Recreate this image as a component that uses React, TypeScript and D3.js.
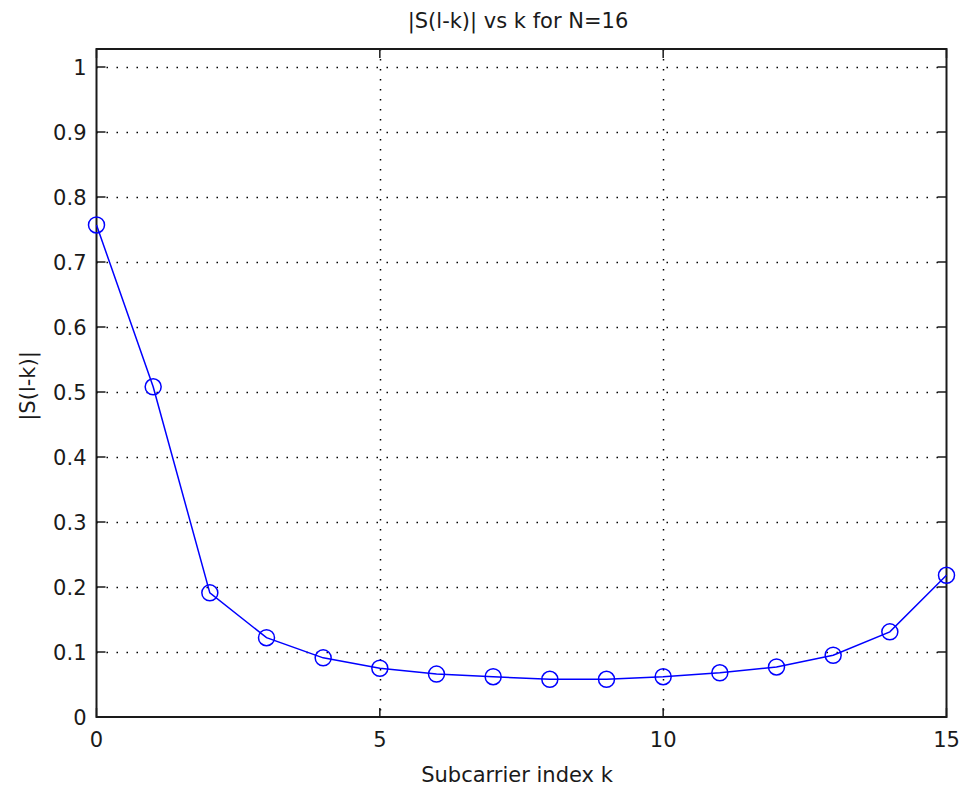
import React from "react";
import * as d3 from "d3";

const kValues = [0, 1, 2, 3, 4, 5, 6, 7, 8, 9, 10, 11, 12, 13, 14, 15];
const sValues = [0.757, 0.508, 0.191, 0.122, 0.091, 0.075, 0.066, 0.062, 0.058, 0.058, 0.062, 0.068, 0.077, 0.095, 0.131, 0.218];
const xTicks = [0, 5, 10, 15];
const yTicks = [0, 0.1, 0.2, 0.3, 0.4, 0.5, 0.6, 0.7, 0.8, 0.9, 1];
const titleText = "|S(l-k)| vs k for N=16";
const xLabelText = "Subcarrier index k";
const yLabelText = "|S(l-k)|";

export default function App() {
  const W = 966, H = 790;
  const left = 96.5, right = 946.5, top = 49, bottom = 717;
  const x = d3.scaleLinear().domain([0, 15]).range([left, right]);
  const y = d3.scaleLinear().domain([0, 1]).range([bottom, 67]);
  const line = d3.line<number>().x((_, i) => x(kValues[i])).y((d) => y(d));
  const font = "'DejaVu Sans', Verdana, sans-serif";
  const tc = "#1a1a1a";
  const fs = 21;
  const tl = 9;
  return (
    <svg width={W} height={H} style={{ position: "absolute", left: 0, top: 0, background: "#fff" }}>
      <rect x={0} y={0} width={W} height={H} fill="#fff" />
      {/* grid */}
      {yTicks.filter((t) => t > 0).map((t) => (
        <line key={"gy" + t} x1={left} x2={right} y1={Math.round(y(t)) + 0.5} y2={Math.round(y(t)) + 0.5}
          stroke="#000" strokeWidth={1.5} strokeDasharray="1.5,8.5" />
      ))}
      {xTicks.filter((t) => t > 0 && t < 15).map((t) => (
        <line key={"gx" + t} y1={top} y2={bottom} x1={Math.round(x(t)) + 0.5} x2={Math.round(x(t)) + 0.5}
          stroke="#000" strokeWidth={1.5} strokeDasharray="1.5,8.5" />
      ))}
      {/* ticks */}
      {yTicks.map((t) => (
        <g key={"ty" + t}>
          <line x1={left} x2={left + tl} y1={y(t)} y2={y(t)} stroke={tc} strokeWidth={1.5} />
          <line x1={right} x2={right - tl} y1={y(t)} y2={y(t)} stroke={tc} strokeWidth={1.5} />
          <text x={left - 10} y={y(t)} dy="0.36em" textAnchor="end" fontFamily={font} fontSize={fs} fill={tc}>{t}</text>
        </g>
      ))}
      {xTicks.map((t) => (
        <g key={"tx" + t}>
          <line x1={x(t)} x2={x(t)} y1={bottom} y2={bottom - tl} stroke={tc} strokeWidth={1.5} />
          <line x1={x(t)} x2={x(t)} y1={top} y2={top + tl} stroke={tc} strokeWidth={1.5} />
          <text x={x(t)} y={bottom + 30} textAnchor="middle" fontFamily={font} fontSize={fs} fill={tc}>{t}</text>
        </g>
      ))}
      <rect x={left} y={top} width={right - left} height={bottom - top} fill="none" stroke={tc} strokeWidth={2} />
      {/* data */}
      <path d={line(sValues) || ""} fill="none" stroke="#0000ff" strokeWidth={1.5} />
      {sValues.map((v, i) => (
        <circle key={i} cx={x(kValues[i])} cy={y(v)} r={8} fill="none" stroke="#0000ff" strokeWidth={1.5} />
      ))}
      <text x={518} y={28} textAnchor="middle" fontFamily={font} fontSize={fs} fill={tc}>{titleText}</text>
      <text x={517} y={782} textAnchor="middle" fontFamily={font} fontSize={fs} fill={tc}>{xLabelText}</text>
      <text transform={`translate(35,386) rotate(-90)`} textAnchor="middle" fontFamily={font} fontSize={fs} fill={tc}>{yLabelText}</text>
    </svg>
  );
}
